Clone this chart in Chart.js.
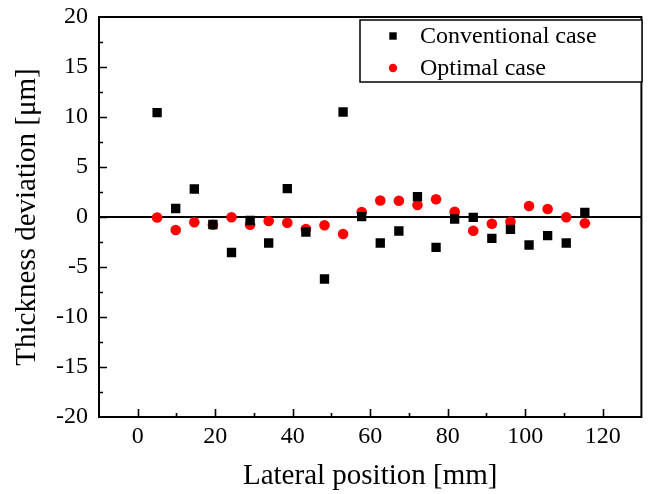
<!DOCTYPE html>
<html>
<head>
<meta charset="utf-8">
<script src="https://cdn.jsdelivr.net/npm/chart.js@4/dist/chart.umd.min.js"></script>
<style>
  html, body { margin: 0; padding: 0; background: #fff; }
  canvas { display: block; }
</style>
</head>
<body>
<canvas id="c" width="648" height="494"></canvas>
<script>
// ---- data ----
const positions = [5, 9.8, 14.6, 19.4, 24.2, 29, 33.8, 38.6, 43.4, 48.2, 53, 57.8,
                   62.6, 67.4, 72.2, 77, 81.8, 86.6, 91.4, 96.2, 101, 105.8, 110.6, 115.4];
const conventional = [10.43, 0.85, 2.8, -0.75, -3.55, -0.35, -2.6, 2.83, -1.5, -6.2, 10.5, 0.03,
                      -2.6, -1.4, 2.03, -3.03, -0.2, -0.03, -2.13, -1.23, -2.8, -1.87, -2.6, 0.47];
const optimal = [-0.05, -1.3, -0.53, -0.77, -0.03, -0.77, -0.4, -0.57, -1.2, -0.83, -1.7, 0.5,
                 1.65, 1.63, 1.2, 1.77, 0.53, -1.37, -0.67, -0.47, 1.1, 0.8, -0.03, -0.63];
const seriesNames = ['Conventional case', 'Optimal case'];
const xTitle = 'Lateral position [mm]';
const yTitle = 'Thickness deviation [\u03bcm]';
const xRange = [-10, 130];
const yRange = [-20, 20];

const FONT = "'Liberation Serif', 'Times New Roman', serif";

function toPoints(xs, ys) { return xs.map((x, i) => ({ x: x, y: ys[i] })); }

const framePlugin = {
  id: 'frame',
  beforeDatasetsDraw(chart) {
    const ctx = chart.ctx, a = chart.chartArea, ys = chart.scales.y;
    const y0 = ys.getPixelForValue(0);
    ctx.save();
    ctx.strokeStyle = '#000';
    ctx.lineWidth = 2;
    ctx.beginPath();
    ctx.moveTo(a.left, y0);
    ctx.lineTo(a.right, y0);
    ctx.stroke();
    ctx.restore();
  },
  afterDatasetsDraw(chart) {
    const ctx = chart.ctx, a = chart.chartArea;
    const xs = chart.scales.x, ys = chart.scales.y;
    ctx.save();
    ctx.strokeStyle = '#000';
    ctx.lineWidth = 2;
    ctx.strokeRect(a.left, a.top, a.right - a.left, a.bottom - a.top);
    ctx.lineWidth = 1.6;
    ctx.beginPath();
    xs.ticks.forEach(t => {
      const px = Math.round(xs.getPixelForValue(t.value)) + 0.5;
      const len = (t.value % 20 === 0) ? 8 : 4;
      if (px <= a.left + 1 || px >= a.right - 1) return;
      ctx.moveTo(px, a.bottom);
      ctx.lineTo(px, a.bottom - len);
    });
    ys.ticks.forEach(t => {
      const py = Math.round(ys.getPixelForValue(t.value)) + 0.5;
      const len = (t.value % 5 === 0) ? 8 : 4;
      if (py <= a.top + 1 || py >= a.bottom - 1) return;
      ctx.moveTo(a.left, py);
      ctx.lineTo(a.left + len, py);
    });
    ctx.stroke();

    // legend box
    const lx = 360, ly = 20, lw = 282, lh = 62;
    ctx.fillStyle = '#fff';
    ctx.fillRect(lx, ly, lw, lh);
    ctx.lineWidth = 1.5;
    ctx.strokeRect(lx, ly, lw, lh);
    const ds = chart.data.datasets;
    const rows = [37, 69];
    ds.forEach((d, i) => {
      const cy = rows[i];
      ctx.fillStyle = d.backgroundColor;
      if (d.pointStyle === 'rect') {
        ctx.fillRect(393 - 3.7, cy - 1 - 3.7, 7.4, 7.4);
      } else {
        ctx.beginPath();
        ctx.arc(393, cy - 1, 4.2, 0, Math.PI * 2);
        ctx.fill();
      }
      ctx.fillStyle = '#000';
      ctx.font = '24px ' + FONT;
      ctx.textBaseline = 'middle';
      ctx.textAlign = 'left';
      ctx.fillText(d.label, 420, cy);
    });
    ctx.restore();
  }
};

new Chart(document.getElementById('c'), {
  type: 'scatter',
  data: {
    datasets: [
      {
        label: seriesNames[0],
        data: toPoints(positions, conventional),
        pointStyle: 'rect',
        pointRadius: 6.6,
        backgroundColor: '#000000',
        borderColor: '#000000',
        borderWidth: 0
      },
      {
        label: seriesNames[1],
        data: toPoints(positions, optimal),
        pointStyle: 'circle',
        pointRadius: 5.3,
        backgroundColor: '#ff0000',
        borderColor: '#ff0000',
        borderWidth: 0
      }
    ]
  },
  options: {
    responsive: false,
    animation: false,
    layout: { padding: { top: 17, right: 5, left: 0, bottom: 0 } },
    plugins: {
      legend: { display: false },
      tooltip: { enabled: false }
    },
    scales: {
      x: {
        type: 'linear',
        min: xRange[0], max: xRange[1],
        grid: { display: false, drawTicks: false },
        border: { display: false },
        ticks: {
          stepSize: 10, autoSkip: false, maxRotation: 0, padding: 5,
          color: '#000',
          font: { family: FONT, size: 24 },
          callback: v => (v % 20 === 0 ? String(v) : '')
        },
        title: {
          display: true, text: xTitle, color: '#000',
          font: { family: FONT, size: 29 },
          padding: { top: 0, bottom: 0 }
        },
        afterFit: s => { s.height = 77; s.paddingLeft = 0; s.paddingRight = 0; }
      },
      y: {
        type: 'linear',
        min: yRange[0], max: yRange[1],
        grid: { display: false, drawTicks: false },
        border: { display: false },
        ticks: {
          stepSize: 2.5, autoSkip: false, padding: 11,
          color: '#000',
          font: { family: FONT, size: 24 },
          callback: v => (v % 5 === 0 ? String(v) : '')
        },
        title: {
          display: true, text: yTitle, color: '#000',
          font: { family: FONT, size: 29 },
          padding: { top: 10, bottom: 0 }
        },
        afterFit: s => { s.width = 99; s.paddingTop = 0; s.paddingBottom = 0; }
      }
    }
  },
  plugins: [framePlugin]
});
</script>
</body>
</html>
